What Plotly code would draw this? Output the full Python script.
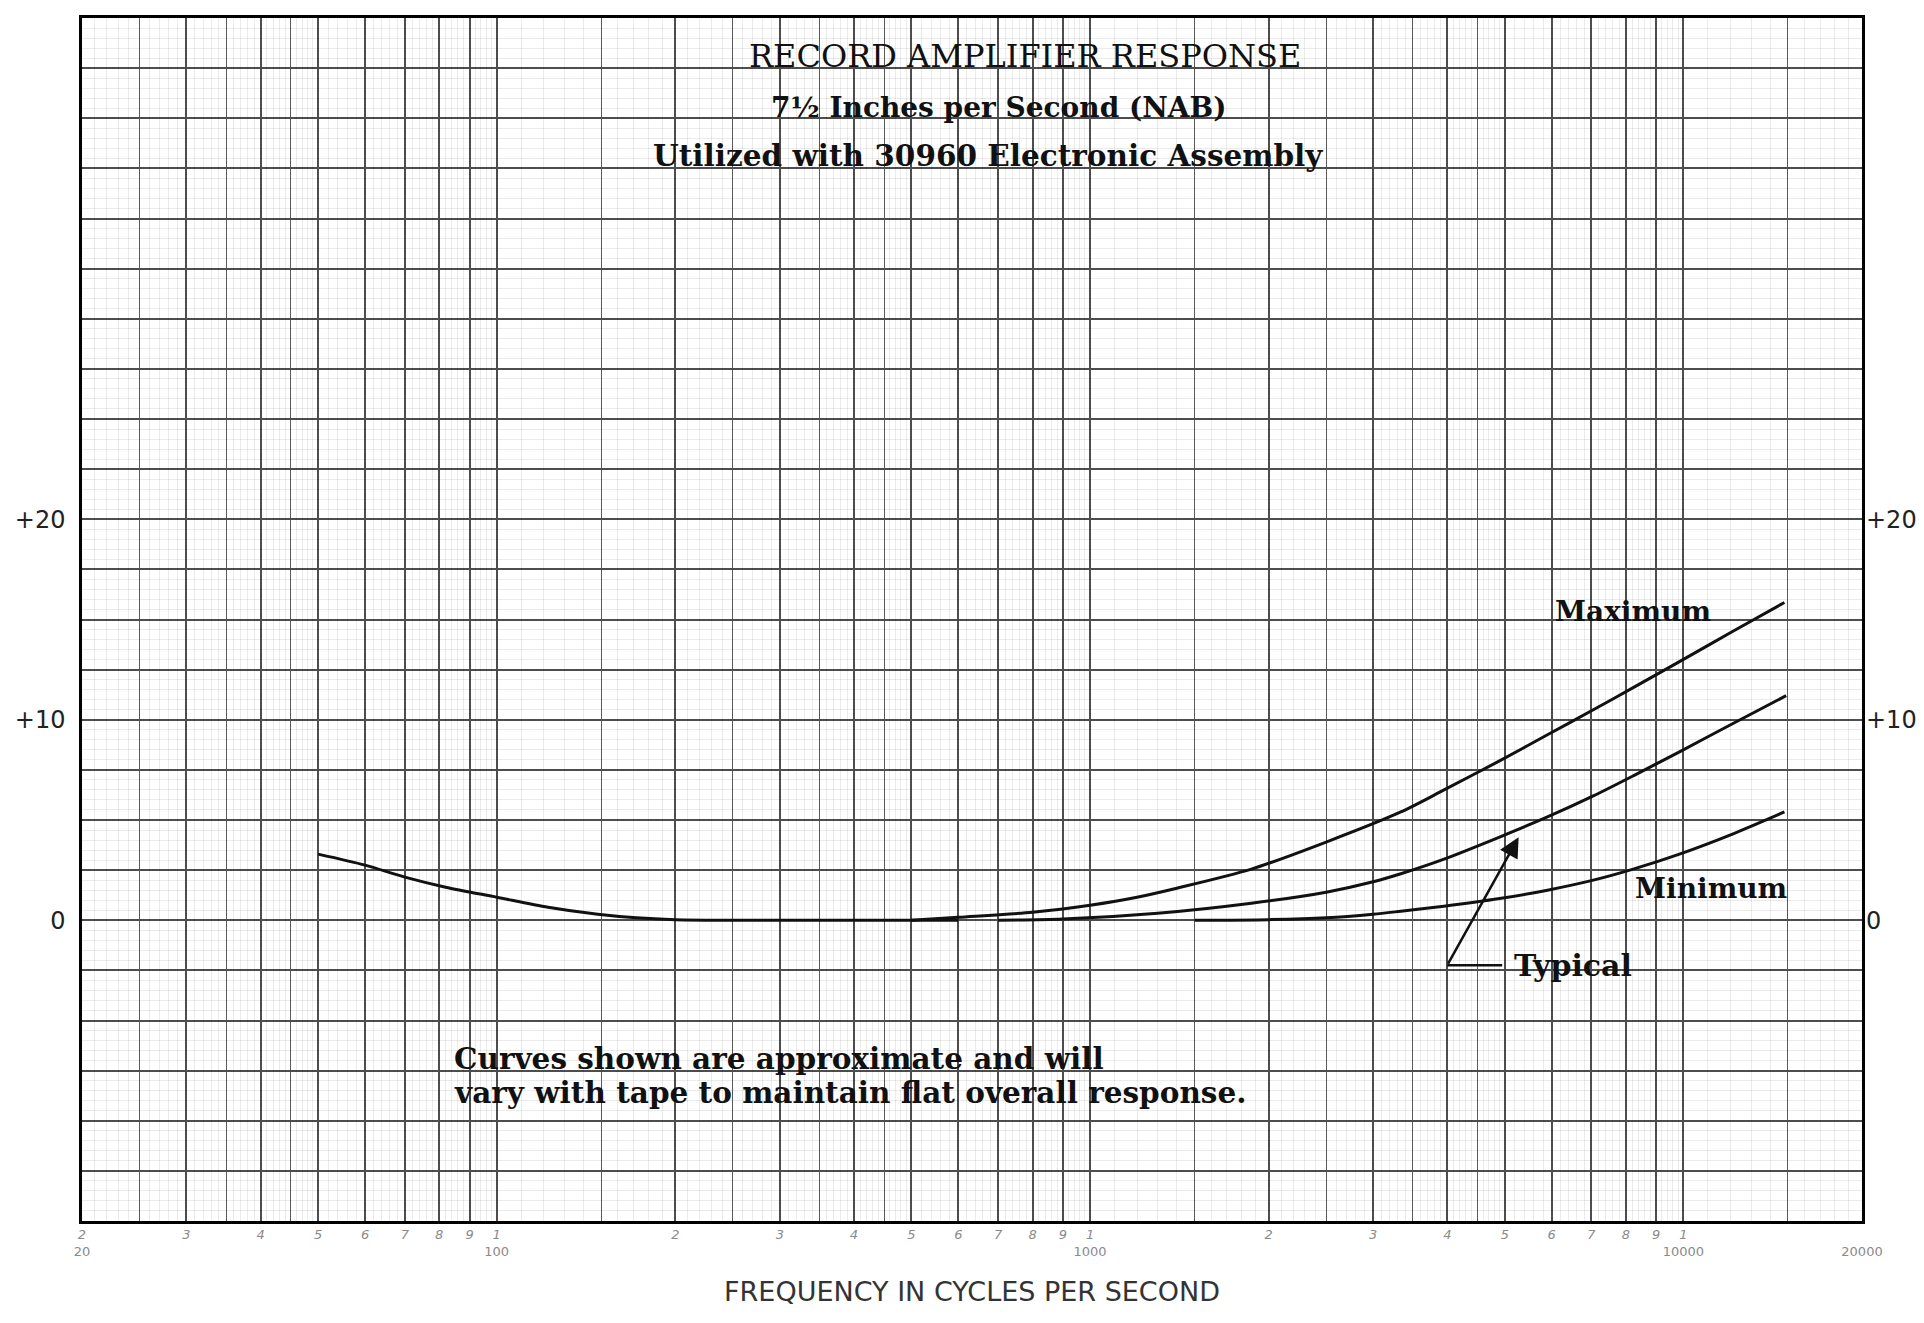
import math
import plotly.graph_objects as go

# shared low-frequency part (the three curves coincide here)
low_freq = [50, 60, 70, 82, 100, 122, 148, 172, 200, 260, 350, 500, 600]
low_db = [3.3, 2.75, 2.15, 1.65, 1.15, 0.65, 0.3, 0.12, 0.03, 0.0, 0.0, 0.0, 0.0]

max_freq = [500, 600, 800, 1000, 1200, 1400, 1870, 2500, 3340, 3950, 4900, 5900, 7050, 8230, 9850, 12100, 14800]
max_db = [0.0, 0.15, 0.4, 0.75, 1.15, 1.6, 2.55, 3.9, 5.4, 6.5, 7.95, 9.25, 10.5, 11.6, 12.9, 14.4, 15.85]

typ_freq = [700, 900, 1300, 1870, 2500, 3000, 3340, 3950, 4900, 5900, 7050, 8230, 9850, 12100, 14900]
typ_db = [0.0, 0.06, 0.35, 0.85, 1.4, 1.92, 2.32, 3.05, 4.15, 5.15, 6.2, 7.2, 8.4, 9.8, 11.2]

min_freq = [1500, 2000, 2500, 3000, 3340, 3950, 4900, 5900, 7050, 8230, 9850, 12100, 14800]
min_db = [0.0, 0.03, 0.12, 0.3, 0.45, 0.7, 1.08, 1.5, 2.0, 2.55, 3.3, 4.3, 5.4]

# "Typical" pointer: elbow, end of the short horizontal, arrow tip
typ_ptr_freq = [4000, 4950]
typ_ptr_db = [-2.24, -2.24]
typ_tip = (5276, 4.14)

x_tick_vals = [20, 30, 40, 50, 60, 70, 80, 90,
               100, 200, 300, 400, 500, 600, 700, 800, 900,
               1000, 2000, 3000, 4000, 5000, 6000, 7000, 8000, 9000,
               10000, 20000]
x_tick_text = ["<i>2</i><br>20", "<i>3</i>", "<i>4</i>", "<i>5</i>", "<i>6</i>", "<i>7</i>", "<i>8</i>", "<i>9</i>",
               "<i>1</i><br>100", "<i>2</i>", "<i>3</i>", "<i>4</i>", "<i>5</i>", "<i>6</i>", "<i>7</i>", "<i>8</i>", "<i>9</i>",
               "<i>1</i><br>1000", "<i>2</i>", "<i>3</i>", "<i>4</i>", "<i>5</i>", "<i>6</i>", "<i>7</i>", "<i>8</i>", "<i>9</i>",
               "<i>1</i><br>10000", " <br>20000"]
y_tick_vals = [0, 10, 20]
y_tick_text = ["0", "+10", "+20"]

# graph paper rulings
half_lines = [m * 10 ** k for k in range(1, 5) for m in (1.5, 2.5, 3.5, 4.5)]
fine_lines = [round(m * 10 ** k, 6) for k in range(1, 5)
              for m in [1 + i / 10 for i in range(1, 40) if i % 5]
              + [5 + i / 5 for i in range(1, 25) if i % 5]]
fine_db = [v / 2 for v in range(-30, 91) if v % 5]

SERIF = "DejaVu Serif"
INK = "#111111"
GRID = "#4d4d4d"
FAINT = "rgba(0,0,0,0.08)"

fig = go.Figure()

curve = dict(color=INK, width=3, shape="spline", smoothing=0.8)
fig.add_trace(go.Scatter(x=low_freq, y=low_db, mode="lines", line=curve, showlegend=False))
fig.add_trace(go.Scatter(x=max_freq, y=max_db, mode="lines", line=curve, showlegend=False))
fig.add_trace(go.Scatter(x=typ_freq, y=typ_db, mode="lines", line=curve, showlegend=False))
fig.add_trace(go.Scatter(x=min_freq, y=min_db, mode="lines", line=curve, showlegend=False))
fig.add_trace(go.Scatter(x=typ_ptr_freq, y=typ_ptr_db, mode="lines",
                         line=dict(color=INK, width=2.5), showlegend=False))

# empty traces so the overlay axes (fine ruling, right-hand labels) get drawn
fig.add_trace(go.Scatter(x=[], y=[], xaxis="x2", yaxis="y3", showlegend=False))
fig.add_trace(go.Scatter(x=[], y=[], xaxis="x", yaxis="y2", showlegend=False))

# the page body adds an 8px offset at top/left, so the figure is 8px smaller than the window
fig.update_layout(
    width=1916,
    height=1315,
    paper_bgcolor="white",
    plot_bgcolor="white",
    margin=dict(l=68, r=61, t=7, b=102),
    showlegend=False,
    xaxis=dict(
        type="log",
        range=[math.log10(20), math.log10(20000)],
        tickmode="array",
        tickvals=x_tick_vals,
        ticktext=x_tick_text,
        tickfont=dict(family="DejaVu Sans", size=13, color="#8a8a8a"),
        ticks="",
        showgrid=True,
        gridcolor=GRID,
        gridwidth=1.5,
        minor=dict(tickmode="array", tickvals=half_lines, showgrid=True,
                   gridcolor="#5a5a5a", gridwidth=1.3),
        showline=True,
        linecolor="black",
        linewidth=2.5,
        mirror=True,
        zeroline=False,
        title=dict(text="FREQUENCY IN CYCLES PER SECOND",
                   font=dict(family="DejaVu Sans", size=27, color="#333333"),
                   standoff=24),
    ),
    xaxis2=dict(
        type="log",
        overlaying="x",
        matches="x",
        tickmode="array",
        tickvals=fine_lines,
        showticklabels=False,
        ticks="",
        showgrid=True,
        gridcolor=FAINT,
        gridwidth=1,
        zeroline=False,
    ),
    yaxis=dict(
        range=[-15, 45],
        tickmode="array",
        tickvals=y_tick_vals,
        ticktext=y_tick_text,
        tickfont=dict(family="DejaVu Sans", size=24, color="#222222"),
        ticks="",
        ticklabelstandoff=9,
        showgrid=True,
        gridcolor=GRID,
        gridwidth=1.5,
        minor=dict(dtick=2.5, tick0=0, showgrid=True, gridcolor=GRID, gridwidth=1.5),
        showline=True,
        linecolor="black",
        linewidth=2.5,
        mirror=True,
        zeroline=False,
    ),
    yaxis2=dict(
        overlaying="y",
        matches="y",
        side="right",
        tickmode="array",
        tickvals=y_tick_vals,
        ticktext=y_tick_text,
        tickfont=dict(family="DejaVu Sans", size=24, color="#222222"),
        ticks="",
        ticklabelstandoff=3,
        showgrid=False,
        zeroline=False,
    ),
    yaxis3=dict(
        overlaying="y",
        matches="y",
        tickmode="array",
        tickvals=fine_db,
        showticklabels=False,
        ticks="",
        showgrid=True,
        gridcolor=FAINT,
        gridwidth=1,
        zeroline=False,
    ),
)

fig.add_annotation(xref="paper", yref="paper", x=0.530, y=0.968, yanchor="middle", showarrow=False,
                   text="RECORD AMPLIFIER RESPONSE", font=dict(family=SERIF, size=32, color=INK))
fig.add_annotation(xref="paper", yref="paper", x=0.515, y=0.926, yanchor="middle", showarrow=False,
                   text="<b>7½ Inches per Second (NAB)</b>", font=dict(family=SERIF, size=28, color=INK))
fig.add_annotation(xref="paper", yref="paper", x=0.509, y=0.886, yanchor="middle", showarrow=False,
                   text="<b>Utilized with 30960 Electronic Assembly</b>",
                   font=dict(family=SERIF, size=29.5, color=INK))

note_font = dict(family=SERIF, size=29.5, color=INK)
fig.add_annotation(xref="paper", yref="paper", x=0.208, y=0.135, xanchor="left", yanchor="middle",
                   showarrow=False, text="<b>Curves shown are approximate and will</b>", font=note_font)
fig.add_annotation(xref="paper", yref="paper", x=0.208, y=0.107, xanchor="left", yanchor="middle",
                   showarrow=False, text="<b>vary with tape to maintain flat overall response.</b>",
                   font=note_font)

label_font = dict(family=SERIF, size=28, color=INK)
fig.add_annotation(x=math.log10(8230), y=15.4, text="<b>Maximum</b>", showarrow=False, font=label_font)
fig.add_annotation(x=math.log10(11110), y=1.58, text="<b>Minimum</b>", showarrow=False, font=label_font)
fig.add_annotation(x=math.log10(5140), y=-2.24, xanchor="left", text="<b>Typical</b>",
                   showarrow=False, font=dict(family=SERIF, size=30, color=INK))
fig.add_annotation(x=math.log10(typ_tip[0]), y=typ_tip[1],
                   ax=math.log10(typ_ptr_freq[0]), ay=typ_ptr_db[0],
                   axref="x", ayref="y", text="", showarrow=True,
                   arrowhead=2, arrowsize=1.6, arrowwidth=2.5, arrowcolor=INK)

fig.write_html("out.html")
